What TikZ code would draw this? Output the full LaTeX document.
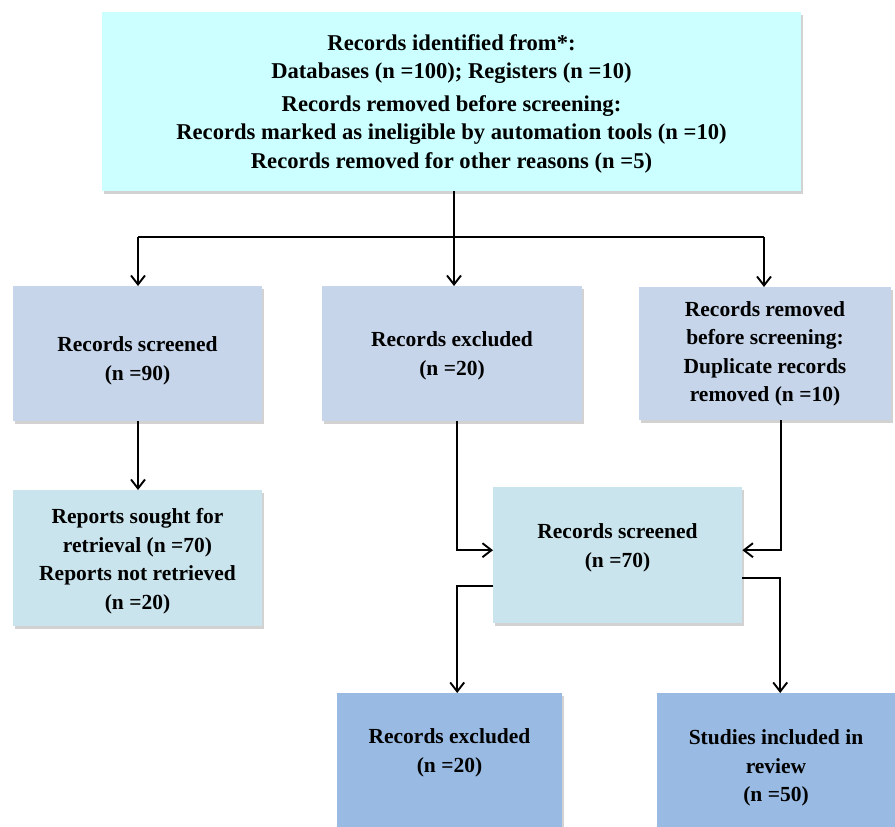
\documentclass[tikz,border=0pt]{standalone}
\usepackage{fontspec}
\setmainfont{Liberation Serif}
\usetikzlibrary{arrows.meta,shadows,calc}
\definecolor{topc}{HTML}{CCFFFF}
\definecolor{midc}{HTML}{C6D5EA}
\definecolor{aquac}{HTML}{C9E4EC}
\definecolor{botc}{HTML}{99BBE3}
\tikzset{
  box/.style={rectangle, draw=none, inner sep=0pt, anchor=north west,
    drop shadow={shadow xshift=1.5pt, shadow yshift=-2.5pt, opacity=0.35, fill=gray}},
  txt/.style={align=center, font=\fontsize{21.5}{28.5}\selectfont\bfseries, inner sep=0pt},
  toptxt/.style={align=center, font=\fontsize{22.6}{28.5}\selectfont\bfseries, inner sep=0pt},
  conn/.style={line width=1.8pt, -{Straight Barb[length=9pt,width=14pt,line width=1.9pt]}},
  plain/.style={line width=1.8pt}
}
\begin{document}
\begin{tikzpicture}[x=1pt,y=-1pt]
\clip (0,0) rectangle (895,827);
\fill[white] (0,0) rectangle (895,827);
% boxes
\node[box, fill=topc, minimum width=699pt, minimum height=179pt] (top) at (102,12) {};
\node[box, fill=midc, minimum width=249pt, minimum height=135pt] (b1) at (13,286) {};
\node[box, fill=midc, minimum width=260pt, minimum height=135pt] (b2) at (322,286) {};
\node[box, fill=midc, minimum width=252pt, minimum height=133pt] (b3) at (639,287) {};
\node[box, fill=aquac, minimum width=249pt, minimum height=136pt] (rep) at (13,490) {};
\node[box, fill=aquac, minimum width=249pt, minimum height=136pt] (mid) at (493,487) {};
\node[box, fill=botc, minimum width=225pt, minimum height=150pt] (ex) at (337,693) {};
\node[box, fill=botc, minimum width=238pt, minimum height=150pt] (inc) at (657,693) {};
% texts
\node[toptxt] (ttop1) at (451.5,59) {Records identified from*:\\Databases (n =100); Registers (n =10)};
\node[toptxt] (ttop2) at (451.5,134) {Records removed before screening:\\Records marked as ineligible by automation tools (n =10)\\Records removed for other reasons (n =5)};
\node[txt] (tb1) at (137.5,361) {Records screened\\(n =90)};
\node[txt] (tb2) at (452,356) {Records excluded\\(n =20)};
\node[txt] (tb3) at (765,354) {Records removed\\before screening:\\Duplicate records\\removed (n =10)};
\node[txt] (trep) at (137.5,561) {Reports sought for\\retrieval (n =70)\\Reports not retrieved\\(n =20)};
\node[txt] (tmid) at (617.5,548) {Records screened\\(n =70)};
\node[txt] (tex) at (449.5,753) {Records excluded\\(n =20)};
\node[txt] (tinc) at (776,768) {Studies included in\\review\\(n =50)};
% connectors
\coordinate (split) at (454,237);
\coordinate (lft) at (138,237);
\coordinate (rgt) at (764,237);
\draw[plain] (top.south -| split) -- (split);
\draw[plain] (lft) -- (rgt);
\draw[conn] (split) -- (split |- b2.north);
\draw[conn] (lft) -- (lft |- b1.north);
\draw[conn] (rgt) -- (rgt |- b3.north);
\draw[conn] (lft |- b1.south) -- (lft |- rep.north);
\draw[conn] ($(b2.south)+(5,0)$) |- ($(mid.west)+(0,-5)$);
\draw[conn] ($(b3.south)+(16,0)$) |- ($(mid.east)+(0,-5)$);
\draw[conn] ($(mid.west)+(0,31)$) -| ($(ex.north)+(7.5,0)$);
\draw[conn] ($(mid.east)+(0,23)$) -| ($(inc.north)+(4,0)$);
\end{tikzpicture}
\end{document}
